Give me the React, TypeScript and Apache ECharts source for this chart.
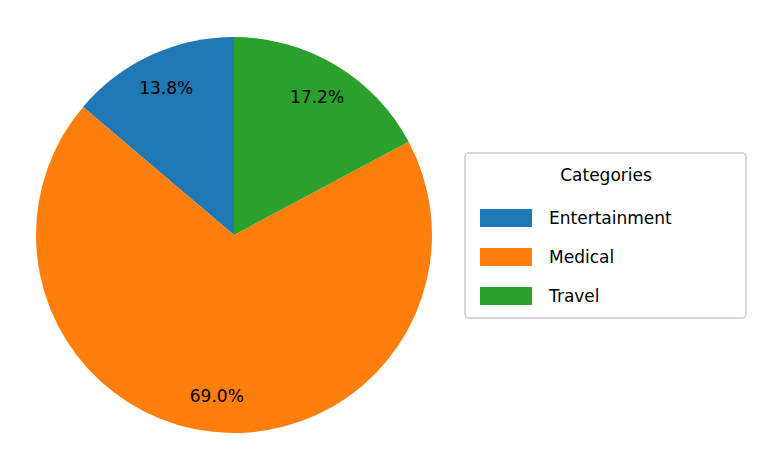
import React, { useEffect, useRef } from "react";
import * as echarts from "echarts";

const categories = ["Entertainment", "Medical", "Travel"];
const values = [13.8, 69.0, 17.2];
const colors = ["#1f77b4", "#ff7f0e", "#2ca02c"];

export default function App() {
  const ref = useRef<HTMLDivElement>(null);
  useEffect(() => {
    document.body.style.margin = "0";
    const chart = echarts.init(ref.current!, null, { renderer: "svg" });
    const data = categories.map((n, i) => ({ name: n, value: values[i], itemStyle: { color: colors[i] } }));
    const font = "DejaVu Sans";
    chart.setOption({
      animation: false,
      backgroundColor: "#ffffff",
      textStyle: { fontFamily: font },
      legend: {
        orient: "vertical",
        left: 475,
        top: 204,
        itemWidth: 52,
        itemHeight: 18,
        itemGap: 21,
        icon: "rect",
        data: categories,
        textStyle: { fontSize: 17, color: "#000", fontFamily: font, padding: [0, 0, 0, 12] },
        selectedMode: false,
      },
      graphic: [
        { type: "rect", shape: { x: 465, y: 153, width: 281, height: 165, r: 4 }, style: { fill: "#fff", stroke: "#cccccc", lineWidth: 1.5 }, z: -1 },
        { type: "text", x: 606, y: 175, style: { text: "Categories", fontSize: 17, fontFamily: font, fill: "#000", align: "center", verticalAlign: "middle" } },
      ],
      series: [
        {
          type: "pie",
          center: [234, 235],
          radius: [0, 198],
          startAngle: 90,
          clockwise: false,
          data,
          label: { show: false },
          labelLine: { show: false },
          silent: true,
        },
        {
          type: "pie",
          center: [234, 235],
          radius: [119, 198],
          startAngle: 90,
          clockwise: false,
          data: data.map((d) => ({ ...d, itemStyle: { color: "transparent" } })),
          label: { show: true, position: "inside", formatter: (p: any) => p.value.toFixed(1) + "%", fontSize: 17, color: "#000", fontFamily: font },
          labelLine: { show: false },
          silent: true,
        },
      ],
    });
    return () => chart.dispose();
  }, []);
  return <div ref={ref} style={{ width: 764, height: 469 }} />;
}
